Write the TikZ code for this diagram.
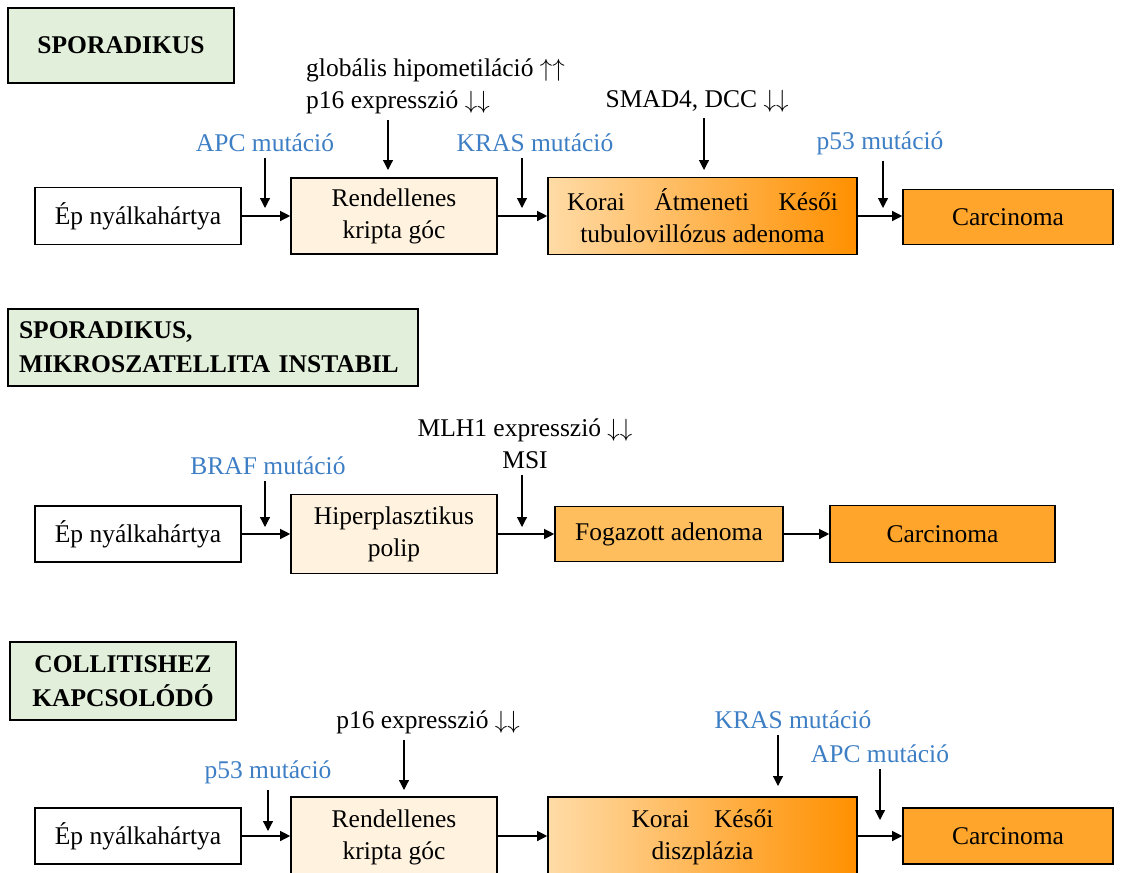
\documentclass[tikz,border=0pt]{standalone}
\usepackage{fontspec}
\setmainfont{Liberation Serif}
\usetikzlibrary{arrows.meta,calc}
\definecolor{mutblue}{HTML}{3D7EC4}
\definecolor{headgreen}{HTML}{E2EFDA}
\definecolor{cream}{HTML}{FFF2DF}
\definecolor{peach}{HTML}{FFDBA6}
\definecolor{midorange}{HTML}{FFC27A}
\definecolor{deeporange}{HTML}{FF9000}
\definecolor{serrated}{HTML}{FFBE5E}
\definecolor{carc}{HTML}{FFA52B}
% tall double arrows for rising / falling levels
\newcommand{\upup}{$\uparrow\uparrow$}
\newcommand{\dndn}{$\downarrow\downarrow$}

\begin{document}
\begin{tikzpicture}[x=1pt,y=-1pt,
  font=\fontsize{25.5}{32}\selectfont,
  box/.style={draw=black, line width=1.6pt, align=center, inner sep=0pt},
  head/.style={box, fill=headgreen, font=\fontsize{25.5}{34}\selectfont\bfseries},
  stage/.style={box, fill=cream},
  adenoma/.style={box, left color=peach, middle color=midorange, right color=deeporange},
  carcbox/.style={box, fill=carc},
  mut/.style={text=mutblue, inner sep=1pt},
  note/.style={inner sep=1pt},
  arr/.style={-{Triangle[length=10pt,width=10pt]}, line width=1.2pt},
  drop/.style={arr, shorten <=5pt},
  ]
\useasboundingbox (0,0) rectangle (1126,872);
\clip (0,0) rectangle (1126,872);

% ---------- sporadic pathway ----------
\node[head, minimum width=226, minimum height=75] (h1) at (121,45.5) {SPORADIKUS};

\node[note, align=left, anchor=west] (n11) at (305,86) {globális hipometiláció \upup\\p16 expresszió \dndn};
\node[note] (n12) at (697,101) {SMAD4, DCC \dndn};
\node[mut] (m11) at (265,143) {APC mutáció};
\node[mut] (m12) at (535,143) {KRAS mutáció};
\node[mut] (m13) at (880,143) {p53 mutáció};

\node[box, minimum width=206, minimum height=57] (b11) at (138,216) {Ép nyálkahártya};
\node[stage, minimum width=206, minimum height=76] (b12) at (394,216) {Rendellenes\\kripta góc};
\node[adenoma, minimum width=309, minimum height=77] (b13) at (702.5,216)
  {\makebox[271pt]{Korai\hfill Átmeneti\hfill Késői}\\tubulovillózus adenoma};
\node[carcbox, minimum width=210, minimum height=55] (b14) at (1008,217) {Carcinoma};

\draw[arr] (b11.east) -- (b11.east -| b12.west);
\draw[arr] (b12.east) -- (b12.east -| b13.west);
\draw[arr] (b13.east) -- (b13.east -| b14.west);

\coordinate (t11) at (265,208);
\coordinate (t12) at (388,170);
\coordinate (t13) at (522,208);
\coordinate (t14) at (704,170);
\coordinate (t15) at (883,208);
\draw[drop] (m11.south -| t11) -- (t11);
\draw[drop] (n11.south -| t12) -- (t12);
\draw[drop] (m12.south -| t13) -- (t13);
\draw[drop] (n12.south -| t14) -- (t14);
\draw[drop] (m13.south -| t15) -- (t15);

% ---------- sporadic, microsatellite instable pathway ----------
\node[head, minimum width=410, minimum height=77, text width=388, align=left] (h2) at (213,347.5)
  {SPORADIKUS,\\MIKROSZATELLITA INSTABIL};

\node[note, align=center] (n21) at (525,444) {MLH1 expresszió \dndn\\MSI};
\node[mut] (m21) at (268,466) {BRAF mutáció};

\node[box, minimum width=206, minimum height=56] (b21) at (138,534) {Ép nyálkahártya};
\node[stage, minimum width=206, minimum height=79] (b22) at (394,534) {Hiperplasztikus\\polip};
\node[box, fill=serrated, minimum width=228, minimum height=55] (b23) at (669,534) {Fogazott adenoma};
\node[carcbox, minimum width=225, minimum height=57] (b24) at (942.5,534) {Carcinoma};

\draw[arr] (b21.east) -- (b21.east -| b22.west);
\draw[arr] (b22.east) -- (b22.east -| b23.west);
\draw[arr] (b23.east) -- (b23.east -| b24.west);

\coordinate (t21) at (265,527);
\coordinate (t22) at (522,527);
\draw[drop] (m21.south -| t21) -- (t21);
\draw[drop] (n21.south -| t22) -- (t22);

% ---------- colitis-associated pathway ----------
\node[head, minimum width=226, minimum height=78] (h3) at (123,681) {COLLITISHEZ\\KAPCSOLÓDÓ};

\node[note] (n31) at (428,722) {p16 expresszió \dndn};
\node[mut] (m31) at (268,772) {p53 mutáció};
\node[mut] (m32) at (793,720) {KRAS mutáció};
\node[mut] (m33) at (880,754) {APC mutáció};

\node[box, minimum width=206, minimum height=56] (b31) at (138,836) {Ép nyálkahártya};
\node[stage, minimum width=206, minimum height=80] (b32) at (394,837) {Rendellenes\\kripta góc};
\node[adenoma, minimum width=309, minimum height=80] (b33) at (702.5,837)
  {\makebox[142pt]{Korai\hfill Késői}\\diszplázia};
\node[carcbox, minimum width=210, minimum height=56] (b34) at (1008,836) {Carcinoma};

\draw[arr] (b31.east) -- (b31.east -| b32.west);
\draw[arr] (b31.east -| b32.east) -- (b31.east -| b33.west);
\draw[arr] (b31.east -| b33.east) -- (b31.east -| b34.west);

\coordinate (t31) at (268,831);
\coordinate (t32) at (404,790);
\coordinate (t33) at (778,786);
\coordinate (t34) at (880,820);
\draw[drop] (m31.south -| t31) -- (t31);
\draw[drop] (n31.south -| t32) -- (t32);
\draw[drop] (m32.south -| t33) -- (t33);
\draw[drop] (m33.south -| t34) -- (t34);
\end{tikzpicture}
\end{document}
